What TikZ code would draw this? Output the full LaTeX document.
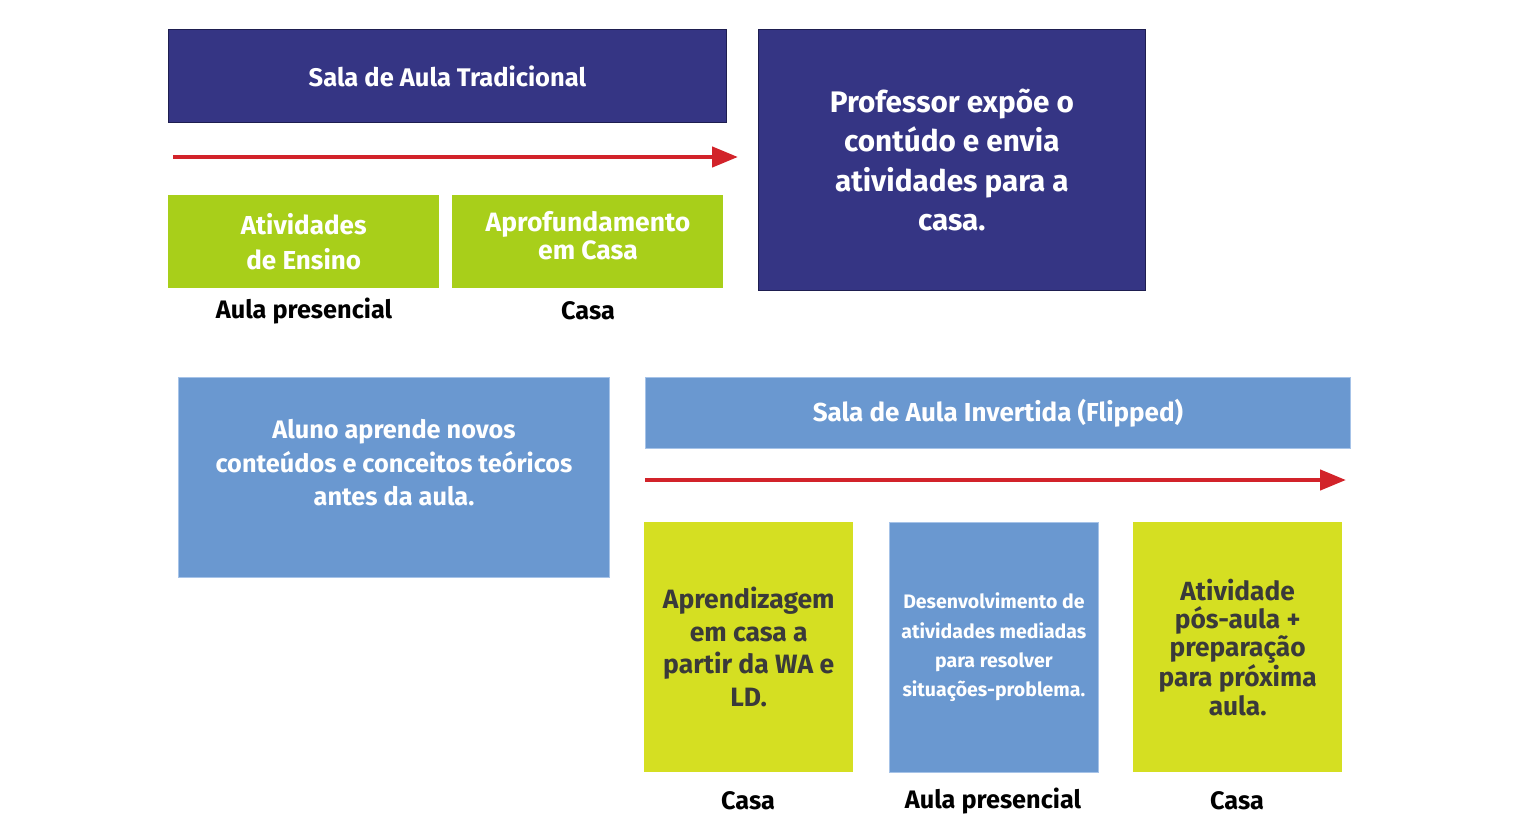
\documentclass[tikz,border=0pt]{standalone}
\usepackage{fontspec}
\setmainfont{Fira Sans}
\usetikzlibrary{arrows.meta}
\definecolor{navy}{HTML}{353584}
\definecolor{navyline}{HTML}{1E1E50}
\definecolor{leaf}{HTML}{A8CF1A}
\definecolor{lime}{HTML}{D5DF22}
\definecolor{sky}{HTML}{6A98D0}
\definecolor{skyline}{HTML}{A6C3E8}
\definecolor{arrowred}{HTML}{D2232A}
\definecolor{ink}{HTML}{3A3A3A}
\tikzset{
  navybox/.style={draw=navyline, line width=0.8pt, fill=navy, text=white, anchor=north west, align=center, inner sep=0pt, font=\bfseries},
  leafbox/.style={fill=leaf, text=white, anchor=north west, align=center, inner sep=0pt, font=\bfseries},
  limebox/.style={fill=lime, text=ink, anchor=north west, align=center, inner sep=0pt, font=\bfseries},
  skybox/.style={draw=skyline, line width=0.8pt, fill=sky, text=white, anchor=north west, align=center, inner sep=0pt, font=\bfseries},
  caption/.style={text=black, font=\bfseries\fontsize{25.3}{28}\selectfont, inner sep=0pt},
  timeline/.style={draw=arrowred, line width=4.5pt, -{Triangle[length=26pt,width=20pt]}}
}
\begin{document}
\begin{tikzpicture}[x=1pt,y=-1pt]
\useasboundingbox (0,0) rectangle (1522,818);
% traditional
\node[navybox, minimum width=558pt, minimum height=93pt, font=\bfseries\fontsize{25.5}{28}\selectfont] (trad) at (168,29) {Sala de Aula Tradicional};
\coordinate (a1s) at (173,157);
\coordinate (a1e) at (738,157);
\draw[timeline] (a1s) -- (a1e);
\node[leafbox, minimum width=271pt, minimum height=93pt, font=\bfseries\fontsize{26}{35}\selectfont] (ens) at (168,195) {Atividades\\de Ensino};
\node[leafbox, minimum width=271pt, minimum height=93pt] (apr) at (452,195) {};
\node[text=white, align=center, inner sep=0pt, font=\bfseries\fontsize{26.5}{28}\selectfont] (aprt) at (588,236) {Aprofundamento\\em Casa};
\node[caption] (c1) at (304,311) {Aula presencial};
\node[caption] (c2) at (588,311) {Casa};
\node[navybox, minimum width=387pt, minimum height=261pt, font=\bfseries\fontsize{29.7}{39.5}\selectfont] (prof) at (758,29) {Professor expõe o\\contúdo e envia\\atividades para a\\casa.};
% flipped
\node[skybox, minimum width=431pt, minimum height=200pt] (alu) at (178,377) {};
\node[text=white, align=center, inner sep=0pt, font=\bfseries\fontsize{25.3}{33.5}\selectfont] (alut) at (394,463) {Aluno aprende novos\\conteúdos e conceitos teóricos\\antes da aula.};
\node[skybox, minimum width=705pt, minimum height=71pt, font=\bfseries\fontsize{26}{28}\selectfont] (inv) at (645,377) {Sala de Aula Invertida (Flipped)};
\coordinate (a2s) at (645,480);
\coordinate (a2e) at (1346,480);
\draw[timeline] (a2s) -- (a2e);
\node[limebox, minimum width=209pt, minimum height=250pt, font=\bfseries\fontsize{26.5}{32.5}\selectfont] (apz) at (644,522) {Aprendizagem\\em casa a\\partir da WA e\\LD.};
\node[skybox, minimum width=209pt, minimum height=250pt, font=\bfseries\fontsize{19.5}{29.3}\selectfont] (des) at (889,522) {Desenvolvimento de\\atividades mediadas\\para resolver\\situações-problema.};
\node[limebox, minimum width=209pt, minimum height=250pt, font=\bfseries\fontsize{26.3}{28.3}\selectfont] (pos) at (1133,522) {Atividade\\pós-aula +\\preparação\\para próxima\\aula.};
\node[caption] (c3) at (748,801) {Casa};
\node[caption] (c4) at (993,801) {Aula presencial};
\node[caption] (c5) at (1237,801) {Casa};
\end{tikzpicture}
\end{document}
